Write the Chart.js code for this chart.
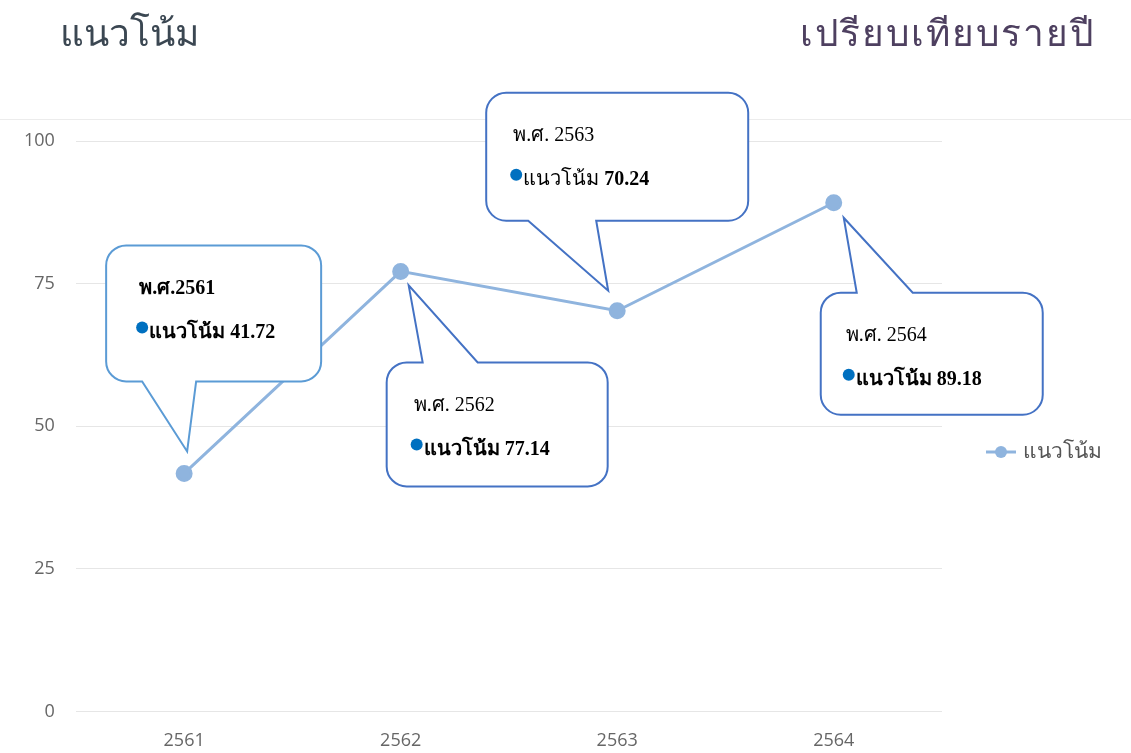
<!DOCTYPE html>
<html>
<head>
<meta charset="utf-8">
<script src="https://cdn.jsdelivr.net/npm/chart.js@4"></script>
<style>
  html, body { margin: 0; padding: 0; background: #fff; }
  #page { position: relative; width: 1131px; height: 753px; overflow: hidden; }
  .title { position: absolute; top: 3px; font-family: "Noto Sans", sans-serif; font-size: 37px; font-weight: 300; }
  #titleLeft { left: 60px; color: #3b4752; }
  #titleRight { right: 36px; color: #4e4060; letter-spacing: 2px; }
  #headLine { position: absolute; left: 0; top: 119px; width: 1131px; height: 1px; background: #ececec; }
  #chartBox { position: absolute; left: -14px; top: 0; width: 1152px; height: 766px; }
</style>
</head>
<body>
<div id="page">
  <div id="headLine"></div>
  <div id="chartBox"><canvas id="trendChart"></canvas></div>
  <div class="title" id="titleLeft">แนวโน้ม</div>
  <div class="title" id="titleRight">เปรียบเทียบรายปี</div>
</div>
<script>
const years = ["2561", "2562", "2563", "2564"];
const trendValues = [41.72, 77.14, 70.24, 89.18];
const yTicks = [0, 25, 50, 75, 100];
const seriesLabel = "แนวโน้ม";
const calloutTitles = ["พ.ศ.2561", "พ.ศ. 2562", "พ.ศ. 2563", "พ.ศ. 2564"];

// callout look, offsets are relative to the data point
const callouts = [
    { box: [-78, -228, 215, 136], tail: "bottom", base: [-42, 12], tip: [3, -22], color: "#5b9bd5", titleBold: true, nameBold: true, textX: 33 },
    { box: [-14, 91, 221, 124], tail: "top", base: [22, 77], tip: [8, 14], color: "#4472c4", titleBold: false, nameBold: true, textX: 27 },
    { box: [-131, -218, 262, 128], tail: "bottom", base: [-89, -21], tip: [-9, -20], color: "#4472c4", titleBold: false, nameBold: false, textX: 27 },
    { box: [-13, 90, 222, 122], tail: "top", base: [23, 79], tip: [10, 15], color: "#4472c4", titleBold: false, nameBold: true, textX: 25 }
];

const lineColor = "#8fb4de";
const serif = "'Liberation Serif', 'Times New Roman', serif";

function bubblePath(ctx, x, y, w, h, r, c, px, py) {
    let a = px + c.base[0], b = px + c.base[1];
    let tx = px + c.tip[0], ty = py + c.tip[1];
    ctx.beginPath();
    ctx.moveTo(x + r, y);
    if (c.tail === "top") {
        ctx.lineTo(a, y);
        ctx.lineTo(tx, ty);
        ctx.lineTo(b, y);
    }
    ctx.lineTo(x + w - r, y);
    ctx.arcTo(x + w, y, x + w, y + r, r);
    ctx.lineTo(x + w, y + h - r);
    ctx.arcTo(x + w, y + h, x + w - r, y + h, r);
    if (c.tail === "bottom") {
        ctx.lineTo(b, y + h);
        ctx.lineTo(tx, ty);
        ctx.lineTo(a, y + h);
    }
    ctx.lineTo(x + r, y + h);
    ctx.arcTo(x, y + h, x, y + h - r, r);
    ctx.lineTo(x, y + r);
    ctx.arcTo(x, y, x + r, y, r);
    ctx.closePath();
}

const calloutPlugin = {
    id: "callouts",
    afterDatasetsDraw(chart) {
        let ctx = chart.ctx;
        let meta = chart.getDatasetMeta(0);
        ctx.save();
        meta.data.forEach(function (pt, i) {
            let c = callouts[i];
            let x = pt.x + c.box[0], y = pt.y + c.box[1], w = c.box[2], h = c.box[3];
            bubblePath(ctx, x, y, w, h, 20, c, pt.x, pt.y);
            ctx.fillStyle = "#ffffff";
            ctx.fill();
            ctx.lineWidth = 2;
            ctx.strokeStyle = c.color;
            ctx.stroke();

            ctx.fillStyle = "#000";
            ctx.textBaseline = "middle";
            ctx.textAlign = "left";
            ctx.font = (c.titleBold ? "bold " : "") + "20px " + serif;
            ctx.fillText(calloutTitles[i], x + c.textX, y + 43);

            ctx.fillStyle = "#0070c0";
            ctx.beginPath();
            ctx.arc(x + c.textX + 3, y + 82, 6, 0, Math.PI * 2);
            ctx.fill();

            ctx.fillStyle = "#000";
            ctx.font = (c.nameBold ? "bold " : "") + "20px " + serif;
            let nameX = x + c.textX + 10;
            ctx.fillText(seriesLabel + " ", nameX, y + 87);
            let nw = ctx.measureText(seriesLabel + " ").width;
            ctx.font = "bold 20px " + serif;
            ctx.fillText(trendValues[i].toFixed(2), nameX + nw, y + 87);
        });
        ctx.restore();
    }
};

const legendPlugin = {
    id: "sideLegend",
    afterDraw(chart) {
        let ctx = chart.ctx;
        let area = chart.chartArea;
        let lx = area.right + 44, ly = 452;
        ctx.save();
        ctx.strokeStyle = lineColor;
        ctx.lineWidth = 3;
        ctx.beginPath();
        ctx.moveTo(lx, ly);
        ctx.lineTo(lx + 30, ly);
        ctx.stroke();
        ctx.fillStyle = lineColor;
        ctx.beginPath();
        ctx.arc(lx + 15, ly, 6, 0, Math.PI * 2);
        ctx.fill();
        ctx.fillStyle = "#555";
        ctx.font = "300 21px 'Noto Sans', sans-serif";
        ctx.textBaseline = "middle";
        ctx.fillText(chart.data.datasets[0].label, lx + 37, ly);
        ctx.restore();
    }
};

let ctx1 = document.getElementById("trendChart").getContext("2d");
new Chart(ctx1, {
    type: "line",
    data: {
        labels: years,
        datasets: [{
            label: seriesLabel,
            data: trendValues,
            borderColor: lineColor,
            backgroundColor: lineColor,
            borderWidth: 3,
            pointRadius: 7,
            pointBackgroundColor: lineColor,
            pointBorderColor: lineColor,
            tension: 0
        }]
    },
    options: {
        responsive: true,
        maintainAspectRatio: false,
        animation: false,
        layout: { padding: { top: 141, left: 17, right: 196, bottom: 3 } },
        plugins: {
            legend: { display: false },
            tooltip: { enabled: false }
        },
        scales: {
            x: {
                offset: true,
                grid: { display: false },
                border: { display: false },
                ticks: { color: "#666", padding: 11, font: { family: "'Open Sans', sans-serif", size: 18 } }
            },
            y: {
                min: yTicks[0],
                max: yTicks[yTicks.length - 1],
                afterBuildTicks: function (axis) {
                    axis.ticks = yTicks.map(function (v) { return { value: v }; });
                },
                grid: { color: "#e6e6e6", drawTicks: false },
                border: { display: false },
                ticks: { color: "#666", padding: 21, font: { family: "'Open Sans', sans-serif", size: 18 } }
            }
        }
    },
    plugins: [calloutPlugin, legendPlugin]
});
</script>
</body>
</html>
